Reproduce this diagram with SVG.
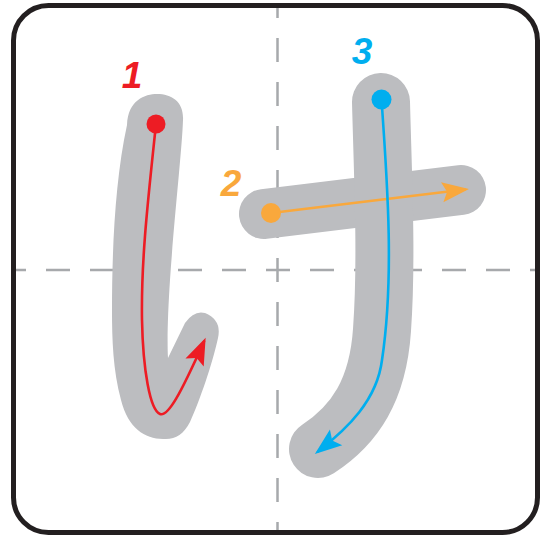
<svg xmlns="http://www.w3.org/2000/svg" width="540" height="536" viewBox="0 0 540 536">
  <style>
    .guide { stroke: #a7a9ac; stroke-width: 2.5; stroke-dasharray: 24 20; stroke-dashoffset: 14; fill: none; }
    .gray { fill: #bcbdc0; }
    .grayline { fill: none; stroke: #bcbdc0; stroke-linecap: round; stroke-linejoin: round; }
    .arrow { fill: none; stroke-width: 2.6; stroke-linecap: round; }
    .num { font-family: "Liberation Sans", Arial, sans-serif; font-weight: bold; font-style: italic; font-size: 37px; text-anchor: middle; }
  </style>
  <defs>
    <marker id="ah-red" markerUnits="userSpaceOnUse" markerWidth="40" markerHeight="40" refX="0" refY="0" orient="auto" overflow="visible">
      <path d="M4,0 L-23,-10 L-18,0 L-23,10 Z" fill="#ed1c24"/>
    </marker>
    <marker id="ah-orange" markerUnits="userSpaceOnUse" markerWidth="40" markerHeight="40" refX="0" refY="0" orient="auto" overflow="visible">
      <path d="M4,0 L-23,-10 L-18,0 L-23,10 Z" fill="#f9a83c"/>
    </marker>
    <marker id="ah-blue" markerUnits="userSpaceOnUse" markerWidth="40" markerHeight="40" refX="0" refY="0" orient="auto" overflow="visible">
      <path d="M4,0 L-23,-10 L-18,0 L-23,10 Z" fill="#00aeef"/>
    </marker>
  </defs>

  <rect x="13.5" y="5.5" width="524" height="527" rx="35" ry="35" fill="#ffffff"/>

  <g id="guides">
    <line class="guide" x1="16" y1="270" x2="537" y2="270"/>
    <line class="guide" x1="277.5" y1="8" x2="277.5" y2="531"/>
  </g>

  <g id="stroke-shapes">
    <path id="shape-1" class="gray" d="M127,125 C128,100 145,94 157,94 C172,94 184,102 183,120 C182,150 174,220 170,280 C168,310 167,340 168,358 L185,323 Q194,310 205,313 Q222,320 218,338 C212,365 200,400 190,422 C183,435 175,440 163,439 C145,439 128,428 121,400 C113,370 112,340 112,310 C112,250 115,180 127,125 Z"/>
    <path id="shape-2" class="grayline" stroke-width="50" d="M264,214 L461,190"/>
    <path id="shape-3" class="grayline" stroke-width="58" d="M381,102 C383,180 387,260 382,330 C378,390 355,425 318,449"/>
  </g>

  <g id="connectors">
    <path id="arrow-1" class="arrow" stroke="#ed1c24" marker-end="url(#ah-red)" d="M156,124 C148,200 141,260 142,320 C143,370 150,410 160,414 C168,417 180,395 204,341.5"/>
    <path id="arrow-2" class="arrow" stroke="#f9a83c" marker-end="url(#ah-orange)" d="M271,213 L465,189.5"/>
    <path id="arrow-3" class="arrow" stroke="#00aeef" marker-end="url(#ah-blue)" d="M381.5,99.5 C388,190 394,280 382,360 C377,400 348,428 318,451.5"/>
  </g>

  <g id="node-1">
    <circle cx="156" cy="124" r="9.5" fill="#ed1c24"/>
    <text class="num" x="132" y="88" fill="#ed1c24">1</text>
  </g>
  <g id="node-2">
    <circle cx="271" cy="213" r="10" fill="#f9a83c"/>
    <text class="num" x="231" y="196" fill="#f9a83c">2</text>
  </g>
  <g id="node-3">
    <circle cx="381.5" cy="99.5" r="10" fill="#00aeef"/>
    <text class="num" x="362" y="64" fill="#00aeef">3</text>
  </g>

  <rect id="frame" x="13.5" y="5.5" width="524" height="527" rx="35" ry="35" fill="none" stroke="#231f20" stroke-width="5"/>
</svg>
